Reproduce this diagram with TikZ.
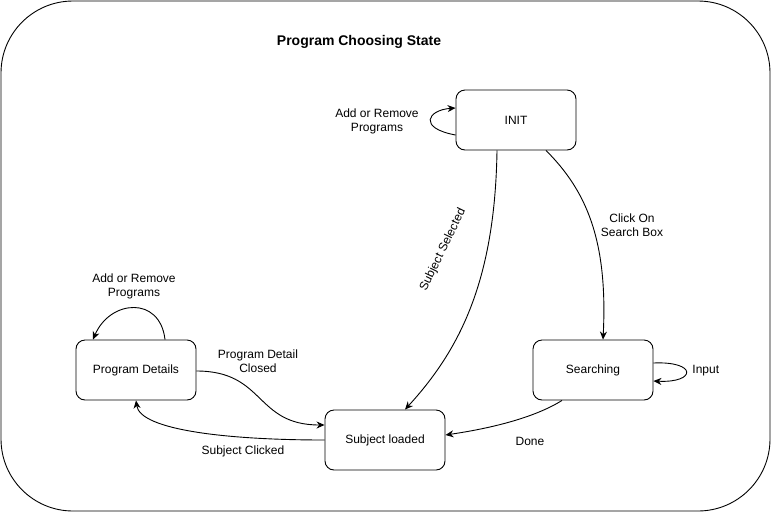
\documentclass[tikz,border=0pt]{standalone}
\usepackage{fontspec}
\setmainfont{Liberation Sans}
\usetikzlibrary{arrows.meta}

\begin{document}
\begin{tikzpicture}[x=1pt,y=-1pt,line width=0.9pt,
  font=\fontsize{12}{14}\selectfont,
  state/.style={draw, rounded corners=9pt, minimum width=120pt, minimum height=60pt},
  lbl/.style={align=center, inner sep=0pt},
  arr/.style={-{Stealth[length=8pt,width=7pt]}}]
\useasboundingbox (0,0) rectangle (771,512);
\draw[rounded corners=72pt] (1,1) rectangle (770,511);

\node[font=\fontsize{14}{16}\selectfont\bfseries] (title) at (359,42) {Program Choosing State};

\node[state] (init) at (516,120) {INIT};
\node[state] (details) at (136,370) {Program Details};
\node[state] (loaded) at (385,440) {Subject loaded};
\node[state] (search) at (593,370) {Searching};

\draw[arr] ([yshift=-15pt]init.west) .. controls +(-38,-7) and +(-28,2) .. ([yshift=12pt]init.west);
\node[lbl] (initloop) at (377,121) {Add or Remove\\Programs};

\draw[arr] ([xshift=-19pt]init.south) .. controls +(-2,130) and +(55,-60) .. ([xshift=20pt]loaded.north);
\node[lbl, rotate=64] (selected) at (443,250) {Subject Selected};

\draw[arr] ([xshift=30pt]init.south) .. controls +(40,40) and +(5,-100) .. ([xshift=10pt]search.north);
\node[lbl] (click) at (632,225) {Click On\\Search Box};

\draw[arr] ([yshift=7pt]search.east) .. controls +(44,-2) and +(43,2) .. ([yshift=-11pt]search.east);
\node[lbl, anchor=west] (input) at (692,371) {Input};

\draw[arr] ([xshift=-31pt]search.south) .. controls +(-32,20) and +(34,-5) .. ([yshift=5pt]loaded.east);
\node[lbl] (done) at (530,441) {Done};

\draw[arr] ([yshift=-1pt]details.east) .. controls +(69,0) and +(-70,0) .. ([yshift=15pt]loaded.west);
\node[lbl] (closed) at (258,361) {Program Detail\\Closed};

\draw[arr] (loaded.west) .. controls +(-95,0) and +(4,30) .. (details.south);
\node[lbl] (clicked) at (243,451) {Subject Clicked};

\draw[arr] ([xshift=29pt]details.north) .. controls +(-5,-44) and +(17,-40) .. ([xshift=-43pt]details.north);
\node[lbl] (detloop) at (134,286) {Add or Remove\\Programs};
\end{tikzpicture}
\end{document}
